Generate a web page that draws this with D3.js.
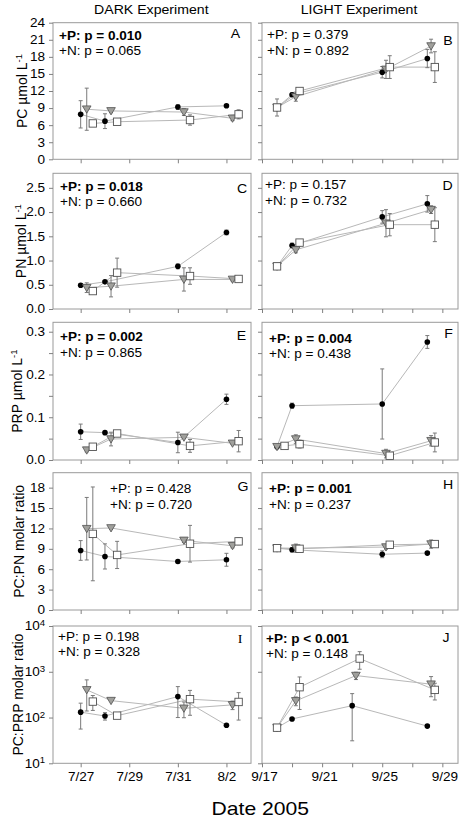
<!DOCTYPE html>
<html><head><meta charset="utf-8">
<script src="https://cdn.jsdelivr.net/npm/d3@7"></script>
<style>body{margin:0;background:#fff}</style>
</head><body>
<svg id="c" width="461" height="820"></svg>
<script>
// ---------------- DATA ----------------
const darkDates  = ["2005-07-27","2005-07-28","2005-07-31","2005-08-02"];
const lightDates = ["2005-09-18","2005-09-19","2005-09-25","2005-09-28"];
const lightDatesJ= ["2005-09-18","2005-09-19","2005-09-23","2005-09-28"];
const darkTicks  = ["2005-07-27","2005-07-29","2005-07-31","2005-08-02"];
const lightTicks = ["2005-09-17","2005-09-19","2005-09-21","2005-09-23","2005-09-25","2005-09-27","2005-09-29"];
const lightTickLabels = ["9/17","","9/21","","9/25","","9/29"];
const darkTickLabels = ["7/27","7/29","7/31","8/2"];

// hour offsets of each marker series (circles, triangles, squares)
const darkOffsets  = {circle:[0,0,0,0], triangle:[6,6,6,6], square:[12,12,12,12]};
const lightOffsets = {circle:[0,0,0,0], triangle:[0,6,6,6], square:[0,12,12,12]};
const lightOffsetsF= {circle:[0,0,0,0], triangle:[0,6,6,6], square:[12,12,12,12]};

// Panel A: PC dark
const A_circle=[7.9,6.7,9.2,9.4],      A_circleErr=[2.4,1.3,0.4,0.2];
const A_triangle=[8.8,8.5,8.3,7.2],    A_triangleErr=[3.7,0.3,0.6,0.4];
const A_square=[6.3,6.6,6.9,7.9],      A_squareErr=[0.5,0.3,0.9,0.8];
// Panel B: PC light
const B_circle=[9.1,11.35,15.3,17.7],  B_circleErr=[0,0.3,1.0,1.6];
const B_triangle=[9.1,11.0,15.8,19.9], B_triangleErr=[0,0.8,1.6,1.2];
const B_square=[9.1,12.0,16.2,16.2],   B_squareErr=[1.5,0.3,2.0,2.7];
// Panel C: PN dark
const C_circle=[0.49,0.56,0.88,1.58],  C_circleErr=[0.03,0.03,0.05,0.05];
const C_triangle=[0.44,0.47,0.61,0.61],C_triangleErr=[0.1,0.22,0.24,0.03];
const C_square=[0.37,0.75,0.68,0.62],  C_squareErr=[0.03,0.3,0.17,0.03];
// Panel D: PN light
const D_circle=[0.88,1.31,1.90,2.17],  D_circleErr=[0,0.05,0.13,0.17];
const D_triangle=[0.88,1.22,1.77,2.05],D_triangleErr=[0,0.06,0.28,0.08];
const D_square=[0.88,1.37,1.74,1.74],  D_squareErr=[0.05,0.05,0.23,0.35];
// Panel E: PRP dark
const E_circle=[0.066,0.064,0.041,0.142], E_circleErr=[0.018,0.003,0.024,0.012];
const E_triangle=[0.023,0.049,0.053,0.039], E_triangleErr=[0.004,0.016,0.003,0.003];
const E_square=[0.031,0.062,0.033,0.044], E_squareErr=[0.003,0.005,0.015,0.025];
// Panel F: PRP light
const F_circle=[0.031,0.127,0.131,0.276], F_circleErr=[0,0.006,0.082,0.015];
const F_triangle=[0.031,0.049,0.015,0.045], F_triangleErr=[0.003,0.01,0.01,0.012];
const F_square=[0.033,0.037,0.010,0.041], F_squareErr=[0.002,0.009,0.004,0.022];
// Panel G: PC:PN dark
const G_circle=[8.76,7.88,7.14,7.39],  G_circleErr=[1.45,1.85,0.2,0.95];
const G_triangle=[11.96,12.07,10.24,9.45], G_triangleErr=[4.6,0.2,0.3,0.3];
const G_square=[11.2,8.1,9.75,10.1],   G_squareErr=[6.9,2.0,2.7,0.5];
// Panel H: PC:PN light
const H_circle=[9.1,8.86,8.2,8.37],    H_circleErr=[0,0.3,0.5,0.2];
const H_triangle=[9.1,9.1,9.26,9.7],   H_triangleErr=[0,0.6,0.3,0.6];
const H_square=[9.1,9.0,9.6,9.7],      H_squareErr=[0.3,0.3,0.3,0.3];
// Panel I: PC:PRP dark (log)
const I_circle=[131,108,287,68],       I_circleErr=[75,20,187,0];
const I_triangle=[402,234,159,189],    I_triangleErr=[263,0,60,40];
const I_square=[223,110,252,219],      I_squareErr=[80,10,140,131];
// Panel J: PC:PRP light (log)
const J_circle=[60,93,182,65],         J_circleErr=[0,5,151,4];
const J_triangle=[60,231,826,535],     J_triangleErr=[0,50,150,250];
const J_square=[60,460,1945,402],      J_squareErr=[8,310,810,160];

const statP = ["+P: p = 0.010","+P: p = 0.379","+P: p = 0.018","+P: p = 0.157","+P: p = 0.002",
               "+P: p = 0.004","+P: p = 0.428","+P: p = 0.001","+P: p = 0.198","+P: p < 0.001"];
const statPBold = [true,false,true,false,true,true,false,true,false,true];
const statN = ["+N: p = 0.065","+N: p = 0.892","+N: p = 0.660","+N: p = 0.732","+N: p = 0.865",
               "+N: p = 0.438","+N: p = 0.720","+N: p = 0.237","+N: p = 0.328","+N: p = 0.148"];
const panelIds = ["A","B","C","D","E","F","G","H","I","J"];

const rowTitles = ["PC µmol L","PN µmol L","PRP µmol L","PC:PN molar ratio","PC:PRP molar ratio"];
const rowTitleSup = ["-1","-1","-1","",""];
const yDomains = [[0,24],[0,2.8],[0,0.322],[0,20.2],[10,10000]];
const yTickVals = [d3.range(0,25,3), [0,0.5,1.0,1.5,2.0,2.5], [0,0.05,0.1,0.15,0.2,0.25,0.3], d3.range(0,19,3), [10,100,1000,10000]];
const yTickText = [
  d3.range(0,25,3).map(String),
  ["0.0","0.5","1.0","1.5","2.0","2.5"],
  ["0.0","","0.1","","0.2","","0.3"],
  d3.range(0,19,3).map(String),
  ["1","2","3","4"]   // exponents of 10
];

// ---------------- LAYOUT ----------------
const SX = 1.13;
const FONT = "'Liberation Sans', Arial, Helvetica, sans-serif";
const colX = [[53,251],[262,458]];
const rowY = [[22.7,159.3],[173.3,309],[322.3,460],[472.7,610],[626,763.3]];
const rowTitleX = [27,25.5,21.5,24,22.5];
const statX  = [59,267,60,265,60,269,110,269,58,266];
const statDy = [17,16.5,17.3,16,18.7,20.4,20.6,20.6,14.7,16.7];
const letX   = [235.5,448,242,447.5,241.5,448.5,243,448,240,446];
const letDy  = [15.3,22,20,16.3,17.7,16,18,16.6,17.3,15.7];

const FRAME="#9a9a9a", TICK="#808080", LINE="#b8b8b8", ERR="#7a7a7a", MSTROKE="#505050", TRIFILL="#a0a09c";

const svg = d3.select("#c");
const parse = s => new Date(s + "T00:00:00");
const shift = (s,h) => new Date(parse(s).getTime() + h*3600000);

const xDark  = d3.scaleTime().domain([new Date("2005-07-25T20:40:00"), new Date("2005-08-03T00:15:00")]).range(colX[0]);
const xLight = d3.scaleTime().domain([new Date("2005-09-17T00:00:00"), new Date("2005-09-30T01:00:00")]).range(colX[1]);

function htext(g, x, y, str, size, opts = {}) {
  return g.append("text")
    .attr("transform", `translate(${x},${y}) scale(${SX},1)`)
    .attr("font-size", size).attr("font-family", opts.family || FONT)
    .attr("font-weight", opts.bold ? "bold" : "normal")
    .attr("text-anchor", opts.anchor || "start").attr("fill", "#000").text(str);
}

const dataMap = {
  A:[A_circle,A_circleErr,A_triangle,A_triangleErr,A_square,A_squareErr],
  B:[B_circle,B_circleErr,B_triangle,B_triangleErr,B_square,B_squareErr],
  C:[C_circle,C_circleErr,C_triangle,C_triangleErr,C_square,C_squareErr],
  D:[D_circle,D_circleErr,D_triangle,D_triangleErr,D_square,D_squareErr],
  E:[E_circle,E_circleErr,E_triangle,E_triangleErr,E_square,E_squareErr],
  F:[F_circle,F_circleErr,F_triangle,F_triangleErr,F_square,F_squareErr],
  G:[G_circle,G_circleErr,G_triangle,G_triangleErr,G_square,G_squareErr],
  H:[H_circle,H_circleErr,H_triangle,H_triangleErr,H_square,H_squareErr],
  I:[I_circle,I_circleErr,I_triangle,I_triangleErr,I_square,I_squareErr],
  J:[J_circle,J_circleErr,J_triangle,J_triangleErr,J_square,J_squareErr]
};

panelIds.forEach((id, k) => {
  const row = Math.floor(k/2), col = k%2;
  const [x0,x1] = colX[col], [y0,y1] = rowY[row];
  const x = col === 0 ? xDark : xLight;
  const y = (row === 4 ? d3.scaleLog() : d3.scaleLinear()).domain(yDomains[row]).range([y1,y0]);
  const dates = col === 0 ? darkDates : (id === "J" ? lightDatesJ : lightDates);
  const offs = col === 0 ? darkOffsets : (id === "F" ? lightOffsetsF : lightOffsets);
  const g = svg.append("g");

  // frame
  g.append("rect").attr("x",x0).attr("y",y0).attr("width",x1-x0).attr("height",y1-y0)
    .attr("fill","none").attr("stroke",FRAME).attr("stroke-width",1);

  // y axis
  const ya = d3.axisLeft(y).tickValues(yTickVals[row]).tickSize(4).tickPadding(3)
    .tickFormat((d,i) => col === 0 ? yTickText[row][i] : "");
  const yg = g.append("g").attr("transform",`translate(${x0},0)`).call(ya);
  yg.select(".domain").remove();
  yg.selectAll(".tick line").attr("stroke",TICK);
  yg.selectAll(".tick text").attr("font-size",12).attr("font-family",FONT).attr("fill","#000")
    .attr("transform",`scale(${SX},1)`);
  if (row === 4 && col === 0) {
    yg.selectAll(".tick text").each(function(d,i){
      const t = d3.select(this); t.text("10");
      t.append("tspan").attr("dy","-0.5em").attr("font-size","8.5px").text(yTickText[4][i]);
    });
  }

  // x axis
  const tv = (col === 0 ? darkTicks : lightTicks).map(parse);
  const tl = col === 0 ? darkTickLabels : lightTickLabels;
  const xa = d3.axisBottom(x).tickValues(tv).tickSize(4).tickPadding(5.5)
    .tickFormat((d,i) => row === 4 ? tl[i] : "");
  const xg = g.append("g").attr("transform",`translate(0,${y1})`).call(xa);
  xg.select(".domain").remove();
  xg.selectAll(".tick line").attr("stroke",TICK);
  xg.selectAll(".tick text").attr("font-size",12).attr("font-family",FONT).attr("fill","#000")
    .attr("transform",`translate(${col===1?2:0},0) scale(${SX},1)`);

  // series
  const [cV,cE,tV,tE,sV,sE] = dataMap[id];
  const series = [
    {kind:"circle", v:cV, e:cE, o:offs.circle},
    {kind:"triangle", v:tV, e:tE, o:offs.triangle},
    {kind:"square", v:sV, e:sE, o:offs.square}
  ].map(s => ({kind:s.kind, pts: s.v.map((v,i) => ({date: shift(dates[i], s.o[i]), v, e: s.e[i]}))}));

  const line = d3.line().x(d => x(d.date)).y(d => y(d.v));
  series.forEach(s => g.append("path").attr("d", line(s.pts)).attr("fill","none")
    .attr("stroke",LINE).attr("stroke-width",1));

  // error bars
  series.forEach(s => s.pts.filter(p => p.e > 0).forEach(p => {
    const xx = x(p.date);
    const lo = y(Math.max(p.v - p.e, yDomains[row][0])), hi = y(p.v + p.e);
    g.append("line").attr("x1",xx).attr("x2",xx).attr("y1",lo).attr("y2",hi).attr("stroke",ERR);
    [lo,hi].forEach(yy => g.append("line").attr("x1",xx-2).attr("x2",xx+2).attr("y1",yy).attr("y2",yy).attr("stroke",ERR));
  }));

  // markers
  series.forEach(s => s.pts.forEach(p => {
    const xx = x(p.date), yy = y(p.v);
    if (s.kind === "circle") {
      g.append("circle").attr("cx",xx).attr("cy",yy).attr("r",2.8).attr("fill","#000");
    } else if (s.kind === "triangle") {
      g.append("path").attr("d",`M${xx-4.3},${yy-3.3}L${xx+4.3},${yy-3.3}L${xx},${yy+4}Z`)
        .attr("fill",TRIFILL).attr("stroke",MSTROKE).attr("stroke-width",0.8);
    } else {
      g.append("rect").attr("x",xx-3.7).attr("y",yy-3.7).attr("width",7.4).attr("height",7.4)
        .attr("fill","#fff").attr("stroke",MSTROKE).attr("stroke-width",0.9);
    }
  }));

  // stats
  htext(g, statX[k], y0 + statDy[k], statP[k], 12, {bold: statPBold[k]});
  htext(g, statX[k], y0 + statDy[k] + 15.7, statN[k], 12);
  // panel letter
  htext(g, letX[k], y0 + letDy[k], id, 12.5, {anchor:"middle", family: id === "I" ? "'Liberation Serif', 'Times New Roman', serif" : FONT});
});

// row titles
rowTitles.forEach((t, r) => {
  const ym = (rowY[r][0] + rowY[r][1]) / 2;
  const tx = svg.append("text").attr("transform",`translate(${rowTitleX[r]},${ym}) rotate(-90)`)
    .attr("text-anchor","middle").attr("font-size",14).attr("font-family",FONT).attr("fill","#000");
  tx.append("tspan").text(t);
  if (rowTitleSup[r]) tx.append("tspan").attr("dy","-0.5em").attr("font-size","9.5px").text(rowTitleSup[r]);
});

// column titles & x title
htext(svg, 151.3, 13.5, "DARK Experiment", 12.5, {anchor:"middle"});
htext(svg, 359, 13.5, "LIGHT Experiment", 12.5, {anchor:"middle"});
htext(svg, 260.3, 814.5, "Date 2005", 18.7, {anchor:"middle"});
</script>
</body></html>
